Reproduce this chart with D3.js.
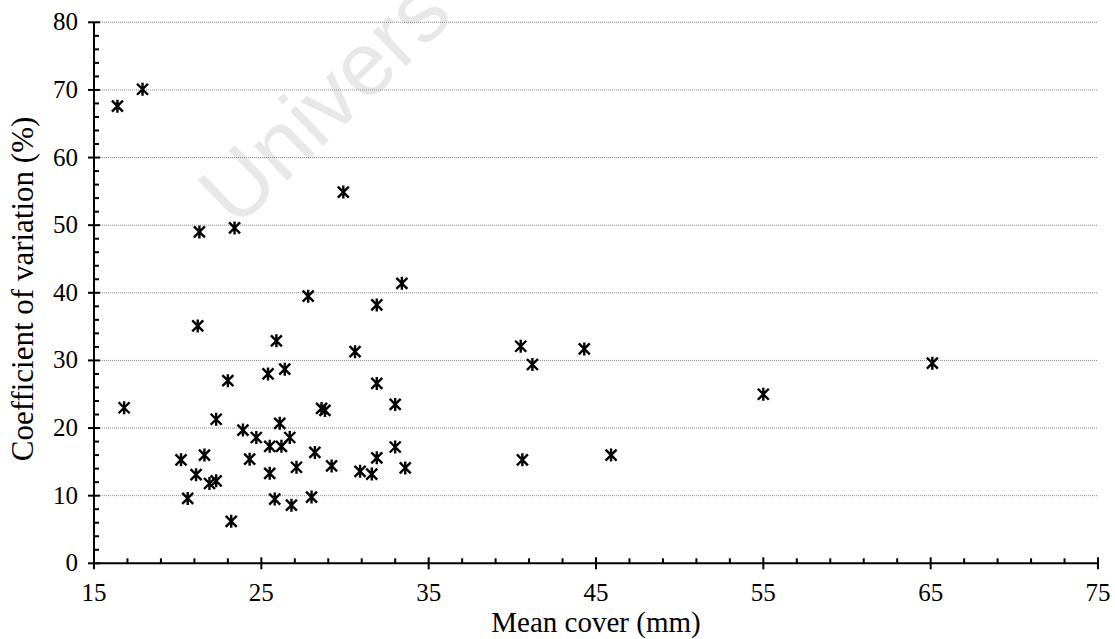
<!DOCTYPE html>
<html><head><meta charset="utf-8">
<script src="https://cdn.jsdelivr.net/npm/d3@7"></script>
<style>body{margin:0;background:#fff}svg{display:block}</style>
</head><body><svg id="c" width="1115" height="639"></svg>
<script>
const meanCover = [16.4,17.9,16.8,20.2,20.6,21.1,21.3,21.2,21.6,21.9,22.3,22.3,23.0,23.2,23.4,23.9,24.3,24.7,25.4,25.5,25.5,25.8,25.9,26.1,26.2,26.4,26.7,26.8,27.1,28.0,28.2,27.8,28.6,28.8,29.2,29.9,30.6,30.9,31.6,31.9,31.9,31.9,33.0,33.0,33.4,33.6,40.5,41.2,44.3,55.0,65.1,40.6,45.9];
const cv = [67.6,70.1,23.0,15.3,9.6,13.1,49.0,35.1,16.0,11.8,12.2,21.3,27.0,6.2,49.6,19.7,15.4,18.6,28.0,17.3,13.3,9.5,32.9,20.7,17.3,28.7,18.6,8.6,14.2,9.8,16.4,39.5,22.9,22.6,14.4,54.9,31.3,13.6,13.2,26.6,15.6,38.2,23.5,17.2,41.4,14.1,32.1,29.4,31.7,25.0,29.6,15.3,16.0];
const xMajor = [15,25,35,45,55,65,75];
const yMajor = [0,10,20,30,40,50,60,70,80];
const xTitle = "Mean cover (mm)";
const yTitle = "Coefficient of variation (%)";
const watermark = "Univers";

const svg = d3.select("#c");
const x = d3.scaleLinear().domain([15,75]).range([94,1098]);
const y = d3.scaleLinear().domain([0,80]).range([563.3,22.3]);
const font = "'Liberation Serif','Times New Roman',serif";

// watermark
svg.append("text").attr("transform","translate(236,230) rotate(-44)")
  .attr("font-family","'Liberation Sans',Arial,sans-serif").attr("font-size",90)
  .attr("fill","#e8e8e8").text(watermark);

// gridlines
svg.append("g").selectAll("line").data(yMajor.filter(d=>d>0)).join("line")
  .attr("x1",x(15)).attr("x2",x(75)).attr("y1",d=>y(d)).attr("y2",d=>y(d))
  .attr("stroke","#888").attr("stroke-width",1).attr("stroke-dasharray","1,1");

// axes
const xMinor = d3.range(15,75.01,2).filter(v=>(v-15)%10!==0);
const yMinor = d3.range(0,80.01,2).filter(v=>v%10!==0);
const ax = svg.append("g").attr("stroke","#000").attr("stroke-width",2);
ax.append("line").attr("x1",x(15)).attr("x2",x(75)).attr("y1",y(0)).attr("y2",y(0));
ax.append("line").attr("x1",x(15)).attr("x2",x(15)).attr("y1",y(0)).attr("y2",y(80));
ax.selectAll(".xM").data(xMajor).join("line").attr("x1",d=>x(d)).attr("x2",d=>x(d)).attr("y1",y(0)-6).attr("y2",y(0)+6);
ax.selectAll(".xm").data(xMinor).join("line").attr("x1",d=>x(d)).attr("x2",d=>x(d)).attr("y1",y(0)-5).attr("y2",y(0));
ax.selectAll(".yM").data(yMajor).join("line").attr("y1",d=>y(d)).attr("y2",d=>y(d)).attr("x1",x(15)-6).attr("x2",x(15)+6);
ax.selectAll(".ym").data(yMinor).join("line").attr("y1",d=>y(d)).attr("y2",d=>y(d)).attr("x1",x(15)).attr("x2",x(15)+5);

svg.append("g").selectAll("text").data(xMajor).join("text")
  .attr("x",d=>x(d)).attr("y",601).attr("text-anchor","middle")
  .attr("font-family",font).attr("font-size",25).text(d=>d);
svg.append("g").selectAll("text").data(yMajor).join("text")
  .attr("x",78).attr("y",d=>y(d)+8).attr("text-anchor","end")
  .attr("font-family",font).attr("font-size",25).text(d=>d);

svg.append("text").attr("x",(x(15)+x(75))/2).attr("y",632).attr("text-anchor","middle")
  .attr("font-family",font).attr("font-size",29).text(xTitle);
svg.append("text").attr("transform",`translate(33,289) rotate(-90)`).attr("text-anchor","middle")
  .attr("font-family",font).attr("font-size",31).text(yTitle);

// markers (star: X + vertical)
const pts = meanCover.map((m,i)=>({m, c: cv[i]}));
const mk = svg.append("g").attr("stroke","#000").attr("stroke-width",2.4).attr("fill","none");
mk.selectAll("path").data(pts).join("path")
  .attr("transform",d=>`translate(${x(d.m)},${y(d.c)})`)
  .attr("d","M-5.5,-5.5L5.5,5.5M-5.5,5.5L5.5,-5.5M0,-6.5L0,6.5");
</script></body></html>
